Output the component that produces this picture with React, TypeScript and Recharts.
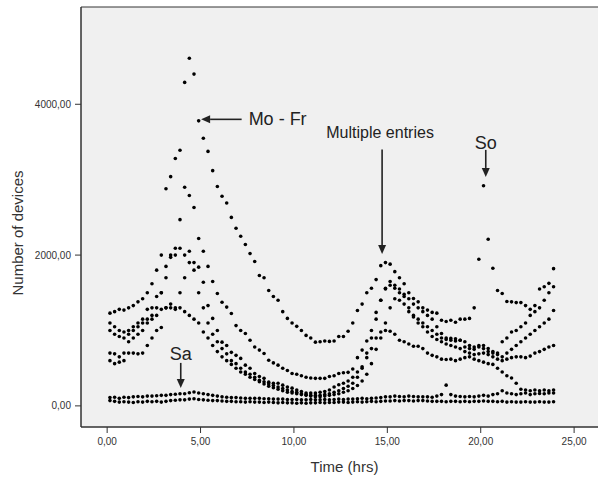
import { ScatterChart, Scatter, XAxis, YAxis, ReferenceArea, ReferenceLine } from 'recharts';

// 15-minute sampling slots over the day (hours)
const hours = Array.from({ length: 96 }, (_, i) => +(0.15 + i * 0.25).toFixed(2));

// devices per slot, one row per hour
const monFri = [
  1230, 1250, 1280, 1270, 1300, 1330, 1380, 1420, 1500, 1620, 1800, 2000,
  2880, 3040, 3280, 3390, 4290, 4610, 4400, 3780, 3550, 3375, 3120, 2910,
  2780, 2690, 2500, 2355, 2250, 2140, 2020, 1915, 1730, 1700, 1530, 1450,
  1400, 1250, 1160, 1100, 1055, 1000, 935, 900, 845, 850, 860, 855,
  860, 920, 920, 990, 1100, 1265, 1350, 1500, 1560, 1675, 1860, 1900,
  1880, 1780, 1700, 1620, 1500, 1425, 1380, 1300, 1270, 1240, 1230, 1135,
  1120, 1135, 1110, 1150, 1150, 1160, 1300, 1945, 2920, 2210, 1825, 1530,
  1490, 1385, 1380, 1370, 1370, 1330, 1280, 1330, 1550, 1580, 1625, 1820,
];

const weekdayB = [
  1100, 1050, 1000, 980, 1000, 1050, 1100, 1150, 1280, 1300, 1450, 1500,
  1850, 2000, 2090, 2470, 2900, 2790, 2630, 2220, 2050, 1850, 1650, 1490,
  1375, 1310, 1225, 1065, 1000, 960, 870, 780, 740, 695, 605, 570,
  540, 500, 470, 430, 420, 400, 380, 370, 365, 365, 365, 390,
  400, 430, 440, 445, 490, 640, 740, 860, 1000, 1240, 1400, 1560,
  1650, 1600, 1550, 1480, 1420, 1350, 1300, 1250, 1200, 1150, 1050, 960,
  900, 895, 890, 870, 850, 800, 750, 780, 800, 760, 720, 700,
  850, 900, 980, 1000, 1050, 1100, 1200, 1250, 1300, 1400, 1500, 1580,
];

const weekdayC = [
  1000, 950, 920, 900, 950, 1000, 1050, 1100, 1150, 1200, 1300, 1500,
  1700, 1970, 2000, 2090, 2000, 2050, 1900, 1840, 1640, 1330, 1160, 1000,
  845, 800, 710, 670, 630, 540, 500, 430, 390, 365, 315, 300,
  300, 275, 250, 235, 210, 190, 170, 170, 170, 180, 190, 210,
  250, 280, 300, 330, 380, 450, 520, 640, 760, 900, 980, 1000,
  990, 950, 870, 850, 820, 790, 790, 760, 700, 670, 650, 620,
  615, 620, 600, 620, 640, 650, 620, 600, 580, 560, 550, 500,
  450, 400, 370, 300, 220, 210, 200, 210, 200, 210, 200, 210,
];

const weekdayD = [
  700, 690, 650, 700, 850, 900, 950, 1000, 1100, 1150, 1200, 1280,
  1300, 1350, 1300, 1500, 1700, 1900, 1800, 1500, 1300, 1100, 950, 850,
  760, 690, 600, 560, 500, 450, 420, 380, 340, 320, 290, 270,
  250, 230, 210, 190, 180, 160, 150, 140, 140, 140, 150, 160,
  180, 200, 230, 260, 300, 380, 500, 700, 900, 1150, 1400, 1550,
  1600, 1560, 1500, 1450, 1300, 1200, 1150, 1100, 1050, 1000, 950, 900,
  880, 870, 860, 870, 780, 760, 780, 800, 760, 720, 700, 680,
  650, 700, 750, 800, 850, 900, 950, 1000, 1050, 1100, 1150, 1265,
];

const weekdayE = [
  600, 560, 580, 600, 700, 700, 690, 700, 800, 900, 1000, 1040,
  1300, 1300, 1280, 1300, 1250, 1200, 1150, 1100, 980, 900, 800, 720,
  650, 600, 550, 500, 450, 420, 380, 350, 320, 290, 260, 240,
  220, 200, 180, 170, 160, 150, 140, 130, 120, 120, 130, 140,
  150, 160, 180, 200, 230, 270, 330, 420, 560, 750, 900, 1100,
  1300, 1420, 1400, 1350, 1250, 1180, 1100, 1050, 980, 920, 880, 850,
  820, 800, 780, 760, 720, 700, 680, 690, 700, 680, 650, 620,
  600, 620, 640, 650, 650, 640, 660, 700, 720, 750, 780, 800,
];

const saturday = [
  110, 115, 100, 115, 110, 120, 125, 120, 130, 130, 135, 140,
  140, 150, 155, 160, 160, 175, 185, 170, 160, 150, 140, 130,
  120, 115, 110, 110, 105, 100, 100, 100, 100, 95, 95, 90,
  90, 90, 85, 85, 85, 80, 80, 85, 80, 80, 85, 80,
  85, 90, 85, 90, 90, 95, 100, 95, 100, 105, 110, 120,
  120, 130, 125, 120, 130, 125, 120, 120, 120, 115, 130, 150,
  275, 150, 130, 125, 120, 125, 120, 130, 140, 130, 150, 160,
  200, 170, 160, 150, 160, 170, 150, 160, 165, 160, 170, 170,
];

const sunday = [
  70, 60, 50, 55, 50, 45, 55, 50, 60, 55, 60, 50,
  60, 70, 75, 80, 80, 90, 95, 85, 80, 75, 70, 70,
  65, 60, 60, 55, 55, 50, 55, 50, 50, 45, 50, 45,
  40, 45, 40, 40, 35, 40, 35, 40, 40, 45, 40, 45,
  45, 50, 50, 45, 50, 55, 50, 55, 60, 55, 60, 65,
  65, 70, 65, 70, 70, 65, 70, 70, 65, 60, 60, 60,
  55, 60, 60, 55, 60, 55, 60, 60, 65, 60, 60, 55,
  60, 50, 55, 50, 50, 55, 50, 50, 55, 50, 50, 55,
];

const series = [monFri, weekdayB, weekdayC, weekdayD, weekdayE, saturday, sunday];

const xTicks = [0, 5, 10, 15, 20, 25];
const yTicks = [0, 2000, 4000];

const annotations = [
  { text: 'Mo - Fr', from: { x: 7.2, y: 3800 }, to: { x: 5.03, y: 3800 }, dx: 7, dy: 6, size: 18, anchor: 'start' },
  { text: 'Multiple entries', from: { x: 14.72, y: 3400 }, to: { x: 14.72, y: 2015 }, dx: -2, dy: -12, size: 16, anchor: 'middle' },
  { text: 'So', from: { x: 20.27, y: 3395 }, to: { x: 20.27, y: 3036 }, dx: 0, dy: -1, size: 18, anchor: 'middle' },
  { text: 'Sa', from: { x: 3.94, y: 570 }, to: { x: 3.94, y: 237 }, dx: 0, dy: -3, size: 18, anchor: 'middle' },
];

const font = '"Liberation Sans", Arial, sans-serif';
const fmt = (v: number) => v.toFixed(2).replace('.', ',');

const Dot = (p: any) => <circle cx={p.cx} cy={p.cy} r={1.8} fill="#000" />;

const arrow = (a: (typeof annotations)[number]) => (p: any) => {
  const { x1, y1, x2, y2 } = p;
  const ang = Math.atan2(y2 - y1, x2 - x1);
  const len = 9;
  const half = 4;
  const bx = x2 - len * Math.cos(ang);
  const by = y2 - len * Math.sin(ang);
  const pts = [
    [x2, y2],
    [bx + half * Math.sin(ang), by - half * Math.cos(ang)],
    [bx - half * Math.sin(ang), by + half * Math.cos(ang)],
  ]
    .map((q) => q.join(','))
    .join(' ');
  return (
    <g>
      <line x1={x1} y1={y1} x2={bx} y2={by} stroke="#222" strokeWidth={1.6} />
      <polygon points={pts} fill="#222" />
      <text x={x1 + a.dx} y={y1 + a.dy} fontSize={a.size} fill="#222" textAnchor={a.anchor} fontFamily={font}>
        {a.text}
      </text>
    </g>
  );
};

export default function App() {
  return (
    <div style={{ position: 'absolute', left: 0, top: 0, width: 598, height: 479, overflow: 'hidden', background: '#fff' }}>
      <ScatterChart width={620} height={479} margin={{ top: 7, right: 16, bottom: 0, left: 0 }}>
        <ReferenceArea x1={-1.4} x2={26.6} y1={-280} y2={5290} fill="#f0f0f0" fillOpacity={1} stroke="#333" strokeWidth={1} />
        <XAxis
          type="number"
          dataKey="x"
          domain={[-1.4, 26.6]}
          ticks={xTicks}
          tickFormatter={fmt}
          height={52}
          tickSize={6}
          tickMargin={5}
          axisLine={{ stroke: '#333' }}
          tickLine={{ stroke: '#333' }}
          tick={{ fontSize: 10, fill: '#333', fontFamily: font }}
          label={(props: any) => {
            const vb = props.viewBox;
            return (
              <text x={vb.x + vb.width / 2 + 2} y={vb.y + 45} textAnchor="middle" fontSize={15} fill="#333" fontFamily={font}>
                Time (hrs)
              </text>
            );
          }}
        />
        <YAxis
          type="number"
          dataKey="y"
          domain={[-280, 5290]}
          ticks={yTicks}
          tickFormatter={fmt}
          width={81}
          tickSize={6}
          tickMargin={4}
          axisLine={{ stroke: '#333' }}
          tickLine={{ stroke: '#333' }}
          tick={{ fontSize: 10, fill: '#333', fontFamily: font }}
          label={(props: any) => {
            const vb = props.viewBox;
            const cy = vb.y + vb.height / 2 + 16;
            return (
              <text x={23} y={cy} transform={`rotate(-90, 23, ${cy})`} textAnchor="middle" fontSize={15} fill="#333" fontFamily={font}>
                Number of devices
              </text>
            );
          }}
        />
        {series.map((vals, i) => (
          <Scatter
            key={i}
            data={vals.map((y, k) => ({ x: hours[k], y }))}
            shape={Dot}
            isAnimationActive={false}
          />
        ))}
        {annotations.map((a) => (
          <ReferenceLine key={a.text} segment={[a.from, a.to]} shape={arrow(a)} />
        ))}
      </ScatterChart>
    </div>
  );
}
